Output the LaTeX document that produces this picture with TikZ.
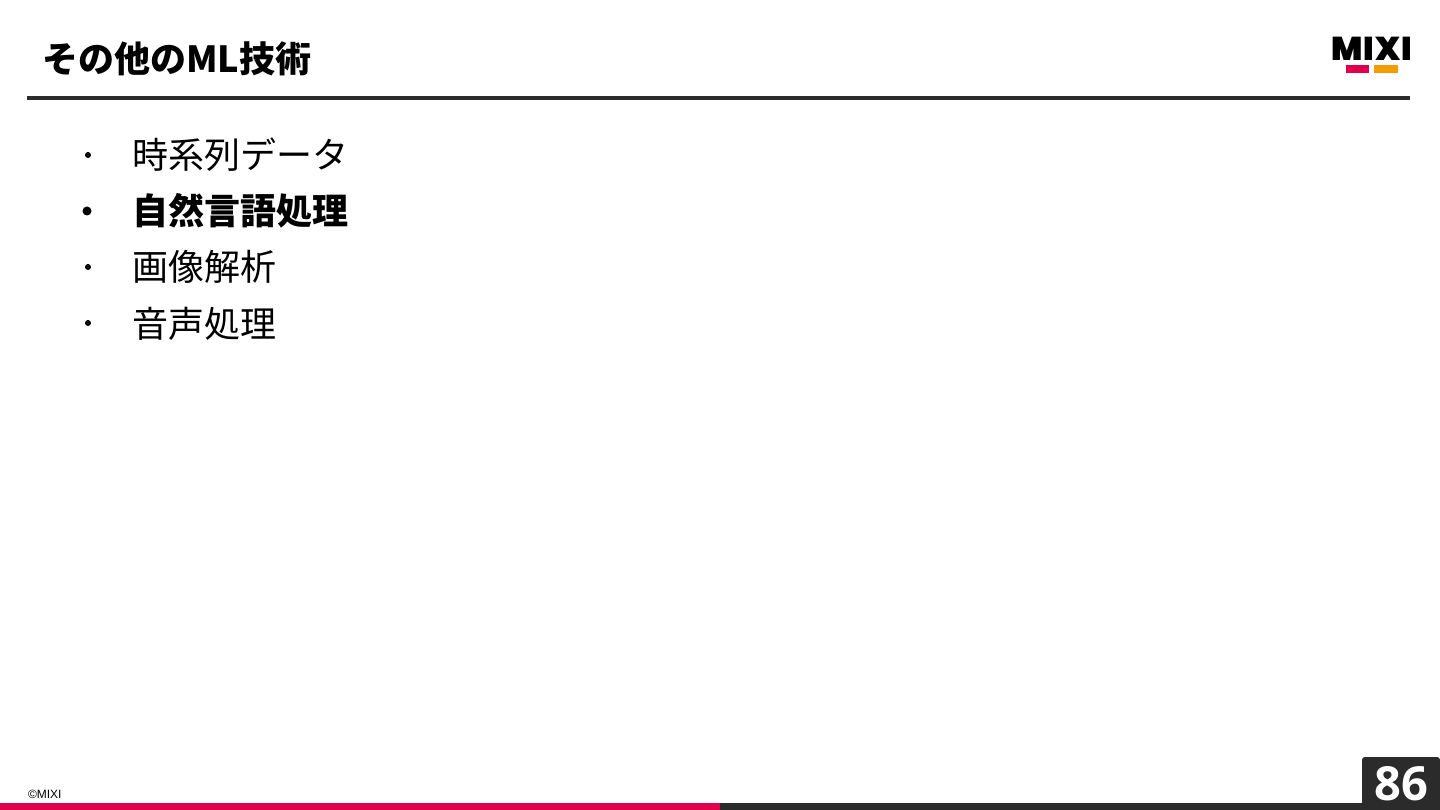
\documentclass[tikz,border=0pt]{standalone}
\usepackage{fontspec}
\setmainfont{Noto Sans CJK JP}
\newfontfamily\logofont[LetterSpace=3]{Poppins Black}
\newfontfamily\numfont{Open Sans}
\newfontfamily\smallfont{Liberation Sans}
\definecolor{dark}{HTML}{2B2B2B}
\definecolor{mixired}{HTML}{E0004D}
\definecolor{mixiorange}{HTML}{F59C00}
\tikzset{
  x=1pt,y=-1pt,
  txt/.style={inner sep=0pt,outer sep=0pt,anchor=base west,text=black},
  bodytext/.style={txt,font=\fontsize{36}{36}\selectfont},
  boldtext/.style={txt,font=\fontsize{36}{36}\selectfont\bfseries},
  bar/.style={fill=#1,draw=none}
}
\begin{document}
\begin{tikzpicture}
\useasboundingbox (0,0) rectangle (1440,810);
\fill[white] (0,0) rectangle (1440,810);
\node[boldtext] (title) at (42,73) {その他のML技術};
\fill[bar=dark] (27,96) rectangle (1410,100);
% logo
\node[inner sep=0pt,anchor=center,text=black,font=\logofont\fontsize{33}{33}\selectfont] (logo) at (1371.5,48.5) {MIXI};
\fill[bar=mixired] (1346,65) rectangle (1369,73);
\fill[bar=mixiorange] (1374,65) rectangle (1398,73);
% bullets
\node[circle,fill=black,inner sep=0pt,minimum size=6pt] (b1) at (88,155) {};
\node[circle,fill=black,inner sep=0pt,minimum size=9pt] (b2) at (87,211) {};
\node[circle,fill=black,inner sep=0pt,minimum size=6pt] (b3) at (88,267) {};
\node[circle,fill=black,inner sep=0pt,minimum size=6pt] (b4) at (88,323) {};
\node[bodytext] (t1) at (132,169) {時系列データ};
\node[boldtext] (t2) at (132,225) {自然言語処理};
\node[bodytext] (t3) at (132,281) {画像解析};
\node[bodytext] (t4) at (132,337) {音声処理};
% footer
\node[txt,font=\smallfont\fontsize{12}{12}\selectfont] (copy) at (28,798) {©MIXI};
\fill[bar=mixired] (0,803) rectangle (720,810);
\fill[bar=dark] (720,803) rectangle (1440,810);
\fill[bar=dark,rounded corners=3pt] (1362,810) -- (1362,757) -- (1440,757) [sharp corners] -- (1440,810) -- cycle;
\node[inner sep=0pt,anchor=base,text=white,font=\numfont\bfseries\fontsize{47}{47}\selectfont] (num) at (1401,800) {86};
\end{tikzpicture}
\end{document}
